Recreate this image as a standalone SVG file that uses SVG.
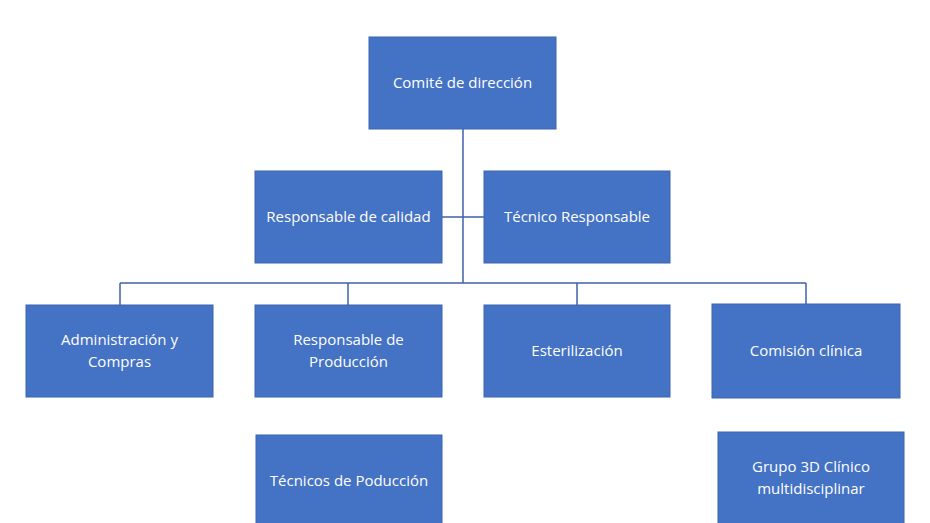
<svg xmlns="http://www.w3.org/2000/svg" width="930" height="523" viewBox="0 0 930 523">
<style>
.b{fill:#4472C4;stroke:#3A64B0;stroke-width:1}
.t{font-family:"Open Sans","Liberation Sans",sans-serif;font-size:15px;fill:#fff;text-anchor:middle}
.c{stroke:#3F63A8;stroke-width:1.5;fill:none}
</style>
<rect width="930" height="523" fill="#fff"/>
<g id="connectors">
<path class="c" d="M463 129V283M120 283H806M120 283V305M348 283V305M577 283V305M806 283V304M442 217H484"/>
</g>
<g id="comite"><rect class="b" x="369" y="37" width="187" height="92"/><text class="t" x="462.5" y="88">Comité de dirección</text></g>
<g id="calidad"><rect class="b" x="255" y="171" width="187" height="92"/><text class="t" x="348.5" y="222">Responsable de calidad</text></g>
<g id="tecnico"><rect class="b" x="484" y="171" width="186" height="92"/><text class="t" x="577" y="222">Técnico Responsable</text></g>
<g id="admin"><rect class="b" x="26" y="305" width="187" height="92"/><text class="t" x="119.5" y="345">Administración y</text><text class="t" x="119.5" y="367">Compras</text></g>
<g id="produccion"><rect class="b" x="255" y="305" width="187" height="92"/><text class="t" x="348.5" y="345">Responsable de</text><text class="t" x="348.5" y="367">Producción</text></g>
<g id="esterilizacion"><rect class="b" x="484" y="305" width="186" height="92"/><text class="t" x="577" y="356">Esterilización</text></g>
<g id="comision"><rect class="b" x="712" y="304" width="188" height="94"/><text class="t" x="806" y="356">Comisión clínica</text></g>
<g id="tecnicos"><rect class="b" x="256" y="435" width="186" height="90"/><text class="t" x="349" y="486">Técnicos de Poducción</text></g>
<g id="grupo"><rect class="b" x="718" y="432" width="186" height="93"/><text class="t" x="811" y="472">Grupo 3D Clínico</text><text class="t" x="811" y="494">multidisciplinar</text></g>
</svg>
